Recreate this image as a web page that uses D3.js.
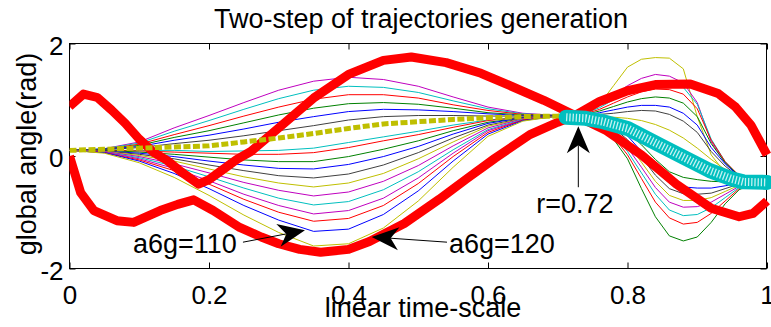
<!DOCTYPE html>
<html>
<head>
<meta charset="utf-8">
<script src="https://cdn.jsdelivr.net/npm/d3@7"></script>
<style>
  html, body { margin: 0; padding: 0; background: #fff; }
  svg { display: block; }
  text { font-family: "Liberation Sans", Arial, Helvetica, sans-serif; fill: #000; }
</style>
</head>
<body>
<svg id="chart" width="771" height="327"></svg>
<script>
// ---- axis ticks -------------------------------------------------------
const xTicks = [0, 0.2, 0.4, 0.6, 0.8, 1];
const xTickLabels = ["0", "0.2", "0.4", "0.6", "0.8", "1"];
const yTicks = [-2, 0, 2];
const yTickLabels = ["-2", "0", "2"];

// ---- step one: fan of trajectories from t=0 to the via point r ----------
const stepOneT = [0, 0.05, 0.1, 0.15, 0.2, 0.25, 0.3, 0.35, 0.4, 0.45, 0.5, 0.55, 0.6, 0.65, 0.7, 0.72];
const stepOneColors = ["m", "c", "r", "g", "b", "k",
                       "c", "r", "g", "b", "k", "y", "m", "c", "m", "r", "b", "y"];
const stepOneValues = [
  [0.10, 0.13, 0.25, 0.50, 0.72, 0.95, 1.17, 1.33, 1.40, 1.36, 1.24, 1.05, 0.87, 0.76, 0.72, 0.72],
  [0.10, 0.13, 0.23, 0.44, 0.63, 0.83, 1.02, 1.17, 1.24, 1.22, 1.13, 0.98, 0.84, 0.75, 0.72, 0.72],
  [0.10, 0.12, 0.21, 0.38, 0.54, 0.71, 0.87, 1.01, 1.09, 1.09, 1.03, 0.91, 0.81, 0.74, 0.72, 0.72],
  [0.10, 0.12, 0.19, 0.33, 0.45, 0.59, 0.73, 0.85, 0.93, 0.95, 0.92, 0.85, 0.77, 0.73, 0.72, 0.72],
  [0.10, 0.12, 0.17, 0.28, 0.37, 0.48, 0.60, 0.70, 0.79, 0.83, 0.82, 0.79, 0.75, 0.72, 0.71, 0.72],
  [0.10, 0.11, 0.15, 0.22, 0.28, 0.36, 0.45, 0.54, 0.64, 0.70, 0.72, 0.72, 0.71, 0.71, 0.71, 0.72],
  [0.10, 0.10, 0.10, 0.10, 0.08, 0.09, 0.10, 0.14, 0.24, 0.34, 0.44, 0.55, 0.64, 0.69, 0.71, 0.72],
  [0.10, 0.10, 0.09, 0.07, 0.05, 0.03, 0.03, 0.06, 0.15, 0.27, 0.38, 0.51, 0.63, 0.69, 0.71, 0.72],
  [0.10, 0.10, 0.07, 0.03, -0.02, -0.07, -0.10, -0.10, -0.01, 0.12, 0.27, 0.45, 0.60, 0.68, 0.71, 0.72],
  [0.10, 0.09, 0.05, -0.01, -0.09, -0.16, -0.22, -0.23, -0.15, -0.01, 0.17, 0.39, 0.58, 0.68, 0.71, 0.72],
  [0.10, 0.09, 0.03, -0.05, -0.16, -0.26, -0.35, -0.39, -0.32, -0.16, 0.06, 0.32, 0.55, 0.67, 0.71, 0.72],
  [0.10, 0.08, 0.01, -0.09, -0.23, -0.37, -0.48, -0.55, -0.48, -0.31, -0.05, 0.25, 0.53, 0.66, 0.71, 0.72],
  [0.10, 0.08, -0.01, -0.14, -0.30, -0.47, -0.61, -0.71, -0.64, -0.45, -0.17, 0.18, 0.50, 0.66, 0.71, 0.72],
  [0.10, 0.07, -0.03, -0.18, -0.37, -0.57, -0.75, -0.87, -0.81, -0.60, -0.28, 0.11, 0.47, 0.65, 0.71, 0.72],
  [0.10, 0.07, -0.05, -0.22, -0.44, -0.68, -0.88, -1.03, -0.97, -0.75, -0.39, 0.05, 0.45, 0.64, 0.71, 0.72],
  [0.10, 0.06, -0.07, -0.26, -0.50, -0.77, -1.00, -1.16, -1.11, -0.88, -0.49, -0.01, 0.42, 0.64, 0.71, 0.72],
  [0.10, 0.06, -0.09, -0.31, -0.58, -0.88, -1.14, -1.34, -1.30, -1.04, -0.62, -0.09, 0.39, 0.63, 0.71, 0.72],
  [0.10, 0.05, -0.12, -0.38, -0.70, -1.05, -1.36, -1.60, -1.56, -1.28, -0.80, -0.20, 0.35, 0.62, 0.71, 0.72]
];

// ---- step two: fan of trajectories from r to the end ------------------
const stepTwoT = [0.72, 0.74, 0.76, 0.78, 0.80, 0.82, 0.84, 0.86, 0.88, 0.90, 0.92, 0.94, 0.96, 0.98, 1.0];
const stepTwoColors = ["y", "m", "c", "r", "g", "b", "k", "y",
                       "g", "r", "c", "m", "y", "k", "b", "g"];
const stepTwoValues = [
  [0.72, 0.74, 0.92, 1.25, 1.58, 1.72, 1.75, 1.74, 1.55, 0.70, 0.02, -0.30, -0.44, -0.47, -0.46],
  [0.72, 0.76, 0.90, 1.08, 1.25, 1.38, 1.45, 1.42, 1.30, 0.95, 0.25, -0.12, -0.37, -0.46, -0.46],
  [0.72, 0.76, 0.86, 1.00, 1.14, 1.26, 1.33, 1.32, 1.22, 0.92, 0.30, -0.10, -0.36, -0.45, -0.46],
  [0.72, 0.75, 0.83, 0.94, 1.05, 1.14, 1.19, 1.18, 1.10, 0.84, 0.28, -0.10, -0.35, -0.45, -0.46],
  [0.72, 0.74, 0.80, 0.88, 0.96, 1.02, 1.05, 1.03, 0.94, 0.70, 0.22, -0.12, -0.35, -0.45, -0.46],
  [0.72, 0.73, 0.77, 0.82, 0.87, 0.90, 0.90, 0.87, 0.76, 0.55, 0.15, -0.14, -0.36, -0.45, -0.46],
  [0.72, 0.72, 0.74, 0.76, 0.79, 0.81, 0.80, 0.74, 0.62, 0.42, 0.08, -0.18, -0.37, -0.45, -0.46],
  [0.72, 0.71, 0.70, 0.69, 0.67, 0.63, 0.56, 0.46, 0.32, 0.14, -0.06, -0.24, -0.39, -0.45, -0.46],
  [0.72, 0.65, 0.52, 0.30, -0.05, -0.58, -1.08, -1.42, -1.51, -1.44, -1.18, -0.85, -0.60, -0.49, -0.46],
  [0.72, 0.66, 0.54, 0.34, 0.02, -0.40, -0.82, -1.10, -1.21, -1.18, -1.02, -0.80, -0.58, -0.48, -0.46],
  [0.72, 0.67, 0.56, 0.38, 0.08, -0.30, -0.68, -0.96, -1.06, -1.04, -0.92, -0.74, -0.56, -0.48, -0.46],
  [0.72, 0.68, 0.58, 0.42, 0.15, -0.20, -0.56, -0.82, -0.91, -0.90, -0.82, -0.68, -0.54, -0.47, -0.46],
  [0.72, 0.69, 0.60, 0.46, 0.22, -0.11, -0.45, -0.70, -0.79, -0.79, -0.74, -0.63, -0.52, -0.47, -0.46],
  [0.72, 0.69, 0.62, 0.50, 0.29, -0.02, -0.34, -0.58, -0.67, -0.68, -0.66, -0.58, -0.50, -0.46, -0.46],
  [0.72, 0.70, 0.64, 0.54, 0.36, 0.08, -0.22, -0.46, -0.55, -0.57, -0.57, -0.53, -0.48, -0.46, -0.46],
  [0.72, 0.70, 0.66, 0.58, 0.43, 0.20, -0.06, -0.28, -0.38, -0.42, -0.45, -0.46, -0.46, -0.46, -0.46]
];

// ---- the two generated trajectories (thick red) ------------------------
const trajAT = [0, 0.02, 0.04, 0.06, 0.08, 0.10, 0.12, 0.14, 0.16, 0.185, 0.20, 0.22, 0.24, 0.26, 0.30,
                0.35, 0.40, 0.45, 0.49, 0.54, 0.59, 0.63, 0.68, 0.725, 0.77, 0.82, 0.87, 0.92, 0.96, 0.98, 1.0];
const trajAValues = [0.88, 1.10, 1.04, 0.82, 0.58, 0.30, 0.07, -0.08, -0.28, -0.50, -0.42, -0.24, -0.06, 0.08, 0.50,
                     1.03, 1.45, 1.70, 1.76, 1.66, 1.47, 1.26, 0.99, 0.72, 0.45, 0.02, -0.50, -0.93, -1.08, -1.02, -0.80];

const trajBT = [0, 0.016, 0.035, 0.068, 0.092, 0.13, 0.155, 0.178, 0.206, 0.244, 0.275, 0.30, 0.33, 0.36, 0.40,
                0.43, 0.48, 0.53, 0.57, 0.61, 0.66, 0.70, 0.725, 0.76, 0.80, 0.84, 0.89, 0.93, 0.955, 0.977, 1.0];
const trajBValues = [0.00, -0.65, -0.97, -1.15, -1.18, -0.97, -0.86, -0.78, -0.97, -1.27, -1.44, -1.56, -1.66, -1.71, -1.66,
                     -1.52, -1.20, -0.77, -0.40, -0.04, 0.38, 0.60, 0.72, 0.97, 1.16, 1.27, 1.28, 1.11, 0.87, 0.55, 0.02];

// ---- first-step reference (yellow squares) -----------------------------
const guideT = [0, 0.05, 0.1, 0.15, 0.2, 0.25, 0.3, 0.35, 0.4, 0.45, 0.5, 0.55, 0.6, 0.65, 0.7, 0.72];
const guideValues = [0.10, 0.12, 0.14, 0.16, 0.18, 0.25, 0.32, 0.40, 0.49, 0.57, 0.61, 0.65, 0.68, 0.70, 0.71, 0.72];

// ---- second-step reference (cyan circles) ------------------------------
const ringT = [0.712, 0.74, 0.765, 0.80, 0.847, 0.88, 0.918, 0.95, 0.966, 1.0];
const ringValues = [0.69, 0.67, 0.61, 0.49, 0.19, -0.02, -0.26, -0.41, -0.46, -0.47];

// ---- annotations (data units) ----------------------------------------
const noteText = ["r=0.72", "a6g=110", "a6g=120"];
const noteAnchor = ["middle", "start", "start"];
const noteAt = [[0.7247, -1.02], [0.091, -1.728], [0.544, -1.728]];
const arrowTail = [[0.7295, -0.555], [0.2487, -1.532], [0.5412, -1.532]];
const arrowTip = [[0.7295, 0.53], [0.3376, -1.321], [0.4333, -1.438]];

// MATLAB style colour letters
const palette = { b: "#0000ff", g: "#008000", r: "#ff0000", c: "#00bfbf",
                  m: "#bf00bf", y: "#bfbf00", k: "#404040" };

// ---- layout ----------------------------------------------------------
const boxLeft = 69.5, boxRight = 766.5, boxTop = 43.5, boxBottom = 268.5;
const x = d3.scaleLinear().domain([0, 1]).range([boxLeft, 767]);
const y = d3.scaleLinear().domain([-2, 2]).range([boxBottom, boxTop]);

const svg = d3.select("#chart");
const fontTick = 26, fontLabel = 27;

// axes are drawn underneath the data
const axisLayer = svg.append("g");
axisLayer.append("rect")
  .attr("x", boxLeft).attr("y", boxTop)
  .attr("width", boxRight - boxLeft).attr("height", boxBottom - boxTop)
  .attr("fill", "none").attr("stroke", "#000").attr("stroke-width", 1);

const xb = axisLayer.append("g").attr("transform", `translate(0,${boxBottom})`)
  .call(d3.axisBottom(x).tickValues(xTicks).tickFormat((d, i) => xTickLabels[i])
        .tickSizeInner(-6).tickSizeOuter(0));
xb.select(".domain").remove();
xb.selectAll("line").attr("stroke", "#000");
xb.selectAll("text").attr("y", 35.5).attr("dy", null)
  .style("font-size", fontTick + "px").attr("font-family", null);

const xt = axisLayer.append("g").attr("transform", `translate(0,${boxTop})`)
  .call(d3.axisTop(x).tickValues(xTicks).tickFormat("").tickSizeInner(-6).tickSizeOuter(0));
xt.select(".domain").remove();
xt.selectAll("line").attr("stroke", "#000");

const yl = axisLayer.append("g").attr("transform", `translate(${boxLeft},0)`)
  .call(d3.axisLeft(y).tickValues(yTicks).tickFormat((d, i) => yTickLabels[i])
        .tickSizeInner(-6).tickSizeOuter(0).tickPadding(6));
yl.select(".domain").remove();
yl.selectAll("line").attr("stroke", "#000");
yl.selectAll("text").attr("x", -6).attr("dy", 10.5)
  .style("font-size", fontTick + "px").attr("font-family", null);

const yr = axisLayer.append("g").attr("transform", `translate(${boxRight},0)`)
  .call(d3.axisRight(y).tickValues(yTicks).tickFormat("").tickSizeInner(-6).tickSizeOuter(0));
yr.select(".domain").remove();
yr.selectAll("line").attr("stroke", "#000");

// remove the axis groups' own font settings so the page font applies
axisLayer.selectAll("g").attr("font-family", null).attr("font-size", null);

// clip region for plotted curves
svg.append("defs").append("clipPath").attr("id", "plotClip")
  .append("rect").attr("x", boxLeft).attr("y", boxTop - 1)
  .attr("width", 780 - boxLeft).attr("height", boxBottom - boxTop + 2);

const plot = svg.append("g").attr("clip-path", "url(#plotClip)");
const line = d3.line().x(d => x(d[0])).y(d => y(d[1]));
const pairs = (ts, vs) => ts.map((t, i) => [t, vs[i]]);

// thin trajectory families
plot.append("g").selectAll("path")
  .data(stepOneValues.map((vs, i) => ({ c: stepOneColors[i], pts: pairs(stepOneT, vs) })))
  .join("path")
  .attr("d", d => line(d.pts))
  .attr("fill", "none").attr("stroke", d => palette[d.c]).attr("stroke-width", 1);

plot.append("g").selectAll("path")
  .data(stepTwoValues.map((vs, i) => ({ c: stepTwoColors[i], pts: pairs(stepTwoT, vs) })))
  .join("path")
  .attr("d", d => line(d.pts))
  .attr("fill", "none").attr("stroke", d => palette[d.c]).attr("stroke-width", 1);

// thick red trajectories
[[trajAT, trajAValues], [trajBT, trajBValues]].forEach(([ts, vs]) => {
  plot.append("path")
    .attr("d", line(pairs(ts, vs)))
    .attr("fill", "none").attr("stroke", "#ff0000")
    .attr("stroke-width", 9).attr("stroke-linejoin", "round");
});

// yellow square-marker reference
plot.append("path")
  .attr("d", line(pairs(guideT, guideValues)))
  .attr("fill", "none").attr("stroke", palette.y)
  .attr("stroke-width", 5).attr("stroke-dasharray", "7,2.5");

// cyan circle-marker reference (not clipped: markers overhang the box)
const ringPath = line(pairs(ringT, ringValues));
svg.append("path").attr("d", ringPath)
  .attr("fill", "none").attr("stroke", palette.c)
  .attr("stroke-width", 15).attr("stroke-linecap", "round").attr("stroke-linejoin", "round");
svg.append("path").attr("d", ringPath)
  .attr("fill", "none").attr("stroke", "#e6fafa").attr("stroke-opacity", 0.85)
  .attr("stroke-width", 8).attr("stroke-dasharray", "1.3,1.9");

// ---- annotation arrows ------------------------------------------------
const notes = svg.append("g");
arrowTail.forEach((tail, i) => {
  const tx = x(tail[0]), ty = y(tail[1]);
  const hx = x(arrowTip[i][0]), hy = y(arrowTip[i][1]);
  const len = Math.hypot(hx - tx, hy - ty);
  const ux = (hx - tx) / len, uy = (hy - ty) / len;
  const px = -uy, py = ux;
  const headLen = 27, halfW = 11.5, notch = 19;
  const bx = hx - ux * headLen, by = hy - uy * headLen;
  const nx = hx - ux * notch, ny = hy - uy * notch;
  notes.append("line")
    .attr("x1", tx).attr("y1", ty).attr("x2", nx).attr("y2", ny)
    .attr("stroke", "#000").attr("stroke-width", 1);
  notes.append("path")
    .attr("d", `M${hx},${hy}L${bx + px * halfW},${by + py * halfW}L${nx},${ny}L${bx - px * halfW},${by - py * halfW}Z`)
    .attr("fill", "#000");
});
noteText.forEach((t, i) => {
  notes.append("text")
    .attr("x", x(noteAt[i][0])).attr("y", y(noteAt[i][1]))
    .attr("text-anchor", noteAnchor[i])
    .style("font-size", fontLabel + "px")
    .text(t);
});

// ---- titles ---------------------------------------------------------
svg.append("text").attr("x", 421).attr("y", 28).attr("text-anchor", "middle")
  .style("font-size", fontLabel + "px").text("Two-step of trajectories generation");
svg.append("text").attr("x", 423).attr("y", 317).attr("text-anchor", "middle")
  .style("font-size", fontLabel + "px").text("linear time-scale");
svg.append("text").attr("transform", "translate(36,154) rotate(-90)")
  .attr("text-anchor", "middle")
  .style("font-size", fontLabel + "px").text("global angle(rad)");
</script>
</body>
</html>
